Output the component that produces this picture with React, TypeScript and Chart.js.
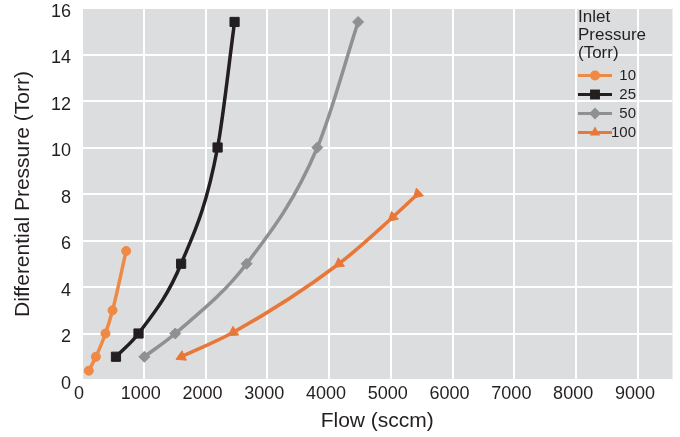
import React, { useEffect, useRef } from 'react';
import { Chart, registerables } from 'chart.js';

Chart.register(...registerables);

// ---- data ----
const seriesLabels = ['10', '25', '50', '100'];
const flow10 = [110, 225, 380, 495, 715];
const dp10 = [0.4, 1.0, 2.0, 3.0, 5.55];
const flow25 = [550, 915, 1605, 2195, 2470];
const dp25 = [1.0, 2.0, 5.0, 10.0, 15.4];
const flow50 = [1010, 1510, 2665, 3810, 4470];
const dp50 = [1.0, 2.0, 5.0, 10.0, 15.4];
const flow100 = [1610, 2450, 4160, 5030, 5435];
const dp100 = [1.0, 2.05, 5.0, 7.0, 8.0];
const triangleRotation100 = [245, 236, 234, 229, 228];

const xTickValues = [0, 1000, 2000, 3000, 4000, 5000, 6000, 7000, 8000, 9000];
const yTickValues = [0, 2, 4, 6, 8, 10, 12, 14, 16];

const legendTitle = ['Inlet', 'Pressure', '(Torr)'];
const xTitle = 'Flow (sccm)';
const yTitle = 'Differential Pressure (Torr)';

const FONT = '"Liberation Sans", Arial, Helvetica, sans-serif';
const TEXT = '#231F20';
const GRID_BG = '#DCDDDF';

const COL10 = '#EE8A45';
const COL25 = '#231F20';
const COL50 = '#8F9092';
const COL100 = '#E8783A';

const toPts = (xs: number[], ys: number[]) => xs.map((x, i) => ({ x, y: ys[i] }));

const bgPlugin = {
  id: 'plotBg',
  beforeDraw(chart: any) {
    const { ctx, chartArea } = chart;
    if (!chartArea) return;
    ctx.save();
    ctx.fillStyle = GRID_BG;
    ctx.fillRect(chartArea.left, chartArea.top, chartArea.right - chartArea.left, chartArea.bottom - chartArea.top);
    ctx.restore();
  },
};

function drawMarker(ctx: CanvasRenderingContext2D, style: string, x: number, y: number, r: number, color: string) {
  ctx.fillStyle = color;
  ctx.beginPath();
  if (style === 'circle') {
    ctx.arc(x, y, r, 0, Math.PI * 2);
  } else if (style === 'rect') {
    const s = r * Math.SQRT1_2;
    ctx.rect(x - s, y - s, 2 * s, 2 * s);
  } else if (style === 'rectRot') {
    ctx.moveTo(x - r, y);
    ctx.lineTo(x, y - r);
    ctx.lineTo(x + r, y);
    ctx.lineTo(x, y + r);
    ctx.closePath();
  } else if (style === 'triangle') {
    let a = 0;
    ctx.moveTo(x + Math.sin(a) * r, y - Math.cos(a) * r);
    a += (2 * Math.PI) / 3;
    ctx.lineTo(x + Math.sin(a) * r, y - Math.cos(a) * r);
    a += (2 * Math.PI) / 3;
    ctx.lineTo(x + Math.sin(a) * r, y - Math.cos(a) * r);
    ctx.closePath();
  }
  ctx.fill();
}

const legendPlugin = {
  id: 'insetLegend',
  afterDraw(chart: any) {
    const ctx: CanvasRenderingContext2D = chart.ctx;
    ctx.save();
    ctx.fillStyle = TEXT;
    ctx.font = `17px ${FONT}`;
    ctx.textBaseline = 'middle';
    ctx.textAlign = 'left';
    legendTitle.forEach((t, i) => ctx.fillText(t, 578, 17 + i * 18));
    chart.data.datasets.forEach((ds: any, i: number) => {
      const y = 75.5 + i * 19;
      ctx.strokeStyle = ds.borderColor;
      ctx.lineWidth = 3;
      ctx.beginPath();
      ctx.moveTo(578, y);
      ctx.lineTo(612, y);
      ctx.stroke();
      drawMarker(ctx, ds.pointStyle, 595, y, ds.legendRadius, ds.borderColor);
      ctx.fillStyle = TEXT;
      ctx.font = `15px ${FONT}`;
      ctx.textAlign = 'right';
      ctx.fillText(ds.label, 636, y);
    });
    ctx.restore();
  },
};

const zeroPad = (s: any) => {
  s.paddingTop = 0;
  s.paddingBottom = 0;
  s.paddingLeft = 0;
  s.paddingRight = 0;
};

export default function App() {
  const ref = useRef<HTMLCanvasElement | null>(null);

  useEffect(() => {
    document.body.style.margin = '0';
    if (!ref.current) return;
    const common = {
      showLine: true,
      borderWidth: 3.5,
      cubicInterpolationMode: 'monotone' as const,
      pointBorderWidth: 1,
      fill: false,
    };
    const chart = new Chart(ref.current, {
      type: 'scatter',
      data: {
        datasets: [
          {
            ...common,
            label: seriesLabels[0],
            data: toPts(flow10, dp10),
            borderColor: COL10,
            backgroundColor: COL10,
            pointBackgroundColor: COL10,
            pointBorderColor: COL10,
            pointStyle: 'circle',
            pointRadius: 4.5,
            legendRadius: 5,
          } as any,
          {
            ...common,
            label: seriesLabels[1],
            data: toPts(flow25, dp25),
            borderColor: COL25,
            backgroundColor: COL25,
            pointBackgroundColor: COL25,
            pointBorderColor: COL25,
            pointStyle: 'rect',
            pointRadius: 6.5,
            legendRadius: 7,
          } as any,
          {
            ...common,
            label: seriesLabels[2],
            data: toPts(flow50, dp50),
            borderColor: COL50,
            backgroundColor: COL50,
            pointBackgroundColor: COL50,
            pointBorderColor: COL50,
            pointStyle: 'rectRot',
            pointRadius: 5.5,
            legendRadius: 6,
          } as any,
          {
            ...common,
            label: seriesLabels[3],
            data: toPts(flow100, dp100),
            borderColor: COL100,
            backgroundColor: COL100,
            pointBackgroundColor: COL100,
            pointBorderColor: COL100,
            pointStyle: 'triangle',
            pointRadius: 6,
            pointRotation: triangleRotation100,
            legendRadius: 6,
          } as any,
        ],
      },
      options: {
        animation: false,
        responsive: false,
        layout: { padding: { top: 8, right: 5, left: 0, bottom: 0 } },
        plugins: {
          legend: { display: false },
          tooltip: { enabled: false },
        },
        scales: {
          x: {
            type: 'linear',
            min: 0,
            max: 9560,
            afterBuildTicks: (s: any) => {
              s.ticks = xTickValues.map((v) => ({ value: v }));
            },
            ticks: {
              padding: 3,
              labelOffset: -3,
              maxRotation: 0,
              autoSkip: false,
              color: TEXT,
              font: { family: FONT, size: 18 },
              callback: (v: any) => String(v),
            },
            grid: { color: '#FFFFFF', lineWidth: 2, drawTicks: false },
            border: { display: false },
            title: {
              display: true,
              text: xTitle,
              color: TEXT,
              font: { family: FONT, size: 21 },
              padding: { top: 0, bottom: 3 },
            },
            afterFit: (s: any) => {
              s.height = 57;
              zeroPad(s);
            },
          } as any,
          y: {
            type: 'linear',
            min: 0,
            max: 16,
            afterBuildTicks: (s: any) => {
              s.ticks = yTickValues.map((v) => ({ value: v }));
            },
            ticks: {
              padding: 11,
              labelOffset: 4,
              color: TEXT,
              font: { family: FONT, size: 18 },
              callback: (v: any) => String(v),
            },
            grid: { color: '#FFFFFF', lineWidth: 2, drawTicks: false },
            border: { display: false },
            title: {
              display: true,
              text: yTitle,
              color: TEXT,
              font: { family: FONT, size: 21 },
              padding: { top: 11, bottom: 0 },
            },
            afterFit: (s: any) => {
              s.width = 82;
              zeroPad(s);
            },
          } as any,
        },
      },
      plugins: [bgPlugin, legendPlugin],
    });
    return () => chart.destroy();
  }, []);

  return (
    <div style={{ width: 680, height: 437, background: '#FFFFFF' }}>
      <canvas ref={ref} width={680} height={437} style={{ display: 'block' }} />
    </div>
  );
}
